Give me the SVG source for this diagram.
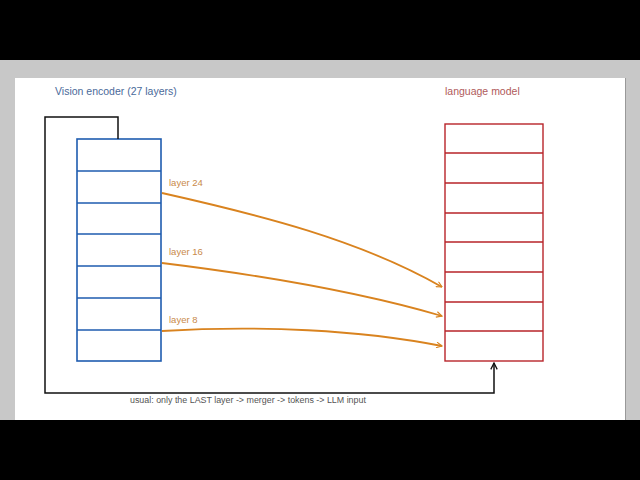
<svg xmlns="http://www.w3.org/2000/svg" width="640" height="480" viewBox="0 0 640 480">
<style>
.lbl{font-family:"Liberation Sans","DejaVu Sans",sans-serif}
.ttl{font-size:10.5px}
.tapl{font-size:9.5px;fill:#c98a4a}
.note{font-size:8.9px;fill:#555}
.enc{fill:none;stroke:#1f5cb0;stroke-width:1.6}
.llm{fill:none;stroke:#b8242a;stroke-width:1.4}
.tap{fill:none;stroke:#d9831f;stroke-width:1.8}
</style>
<defs>
<marker id="ao" viewBox="0 0 10 10" refX="9" refY="5" markerWidth="7" markerHeight="7" orient="auto" markerUnits="userSpaceOnUse">
<path d="M1,1 L9,5 L1,9" fill="none" stroke="#d9831f" stroke-width="1.6"/>
</marker>
<marker id="ak" viewBox="0 0 10 10" refX="9" refY="5" markerWidth="8" markerHeight="8" orient="auto" markerUnits="userSpaceOnUse">
<path d="M1,1 L9,5 L1,9" fill="none" stroke="#111" stroke-width="1.6"/>
</marker>
</defs>
<rect x="0" y="0" width="640" height="480" fill="#000"/>
<rect x="0" y="60" width="640" height="360" fill="#c8c8c8"/>
<rect x="15" y="78" width="610" height="342" fill="#fff"/>
<line x1="625.5" y1="78" x2="625.5" y2="420" stroke="#999" stroke-width="1"/>
<text class="lbl ttl" x="55" y="95" fill="#4a6a9a">Vision encoder (27 layers)</text>
<text class="lbl ttl" x="445" y="95" fill="#b05a5a">language model</text>
<g id="encoder">
<rect class="enc" x="77" y="139" width="84" height="222"/>
<path class="enc" d="M77,171H161M77,203H161M77,234H161M77,266H161M77,298H161M77,330H161"/>
</g>
<g id="llm">
<rect class="llm" x="445" y="124" width="98" height="237"/>
<path class="llm" d="M445,153H543M445,183H543M445,213H543M445,242H543M445,272H543M445,302H543M445,331H543"/>
</g>
<g id="connectors">
<path class="tap" d="M162,193 C260,215 360,240 442,287" marker-end="url(#ao)"/>
<path class="tap" d="M162,263 C260,275 360,292 442,316" marker-end="url(#ao)"/>
<path class="tap" d="M162,331 C260,325 360,330 442,346" marker-end="url(#ao)"/>
<path d="M118,139 V117 H45 V393 H494 V363" fill="none" stroke="#111" stroke-width="1.5" marker-end="url(#ak)"/>
</g>
<text class="lbl tapl" x="169" y="186">layer 24</text>
<text class="lbl tapl" x="169" y="255">layer 16</text>
<text class="lbl tapl" x="169" y="323">layer 8</text>
<text class="lbl note" x="130" y="403">usual: only the LAST layer -&gt; merger -&gt; tokens -&gt; LLM input</text>
</svg>
